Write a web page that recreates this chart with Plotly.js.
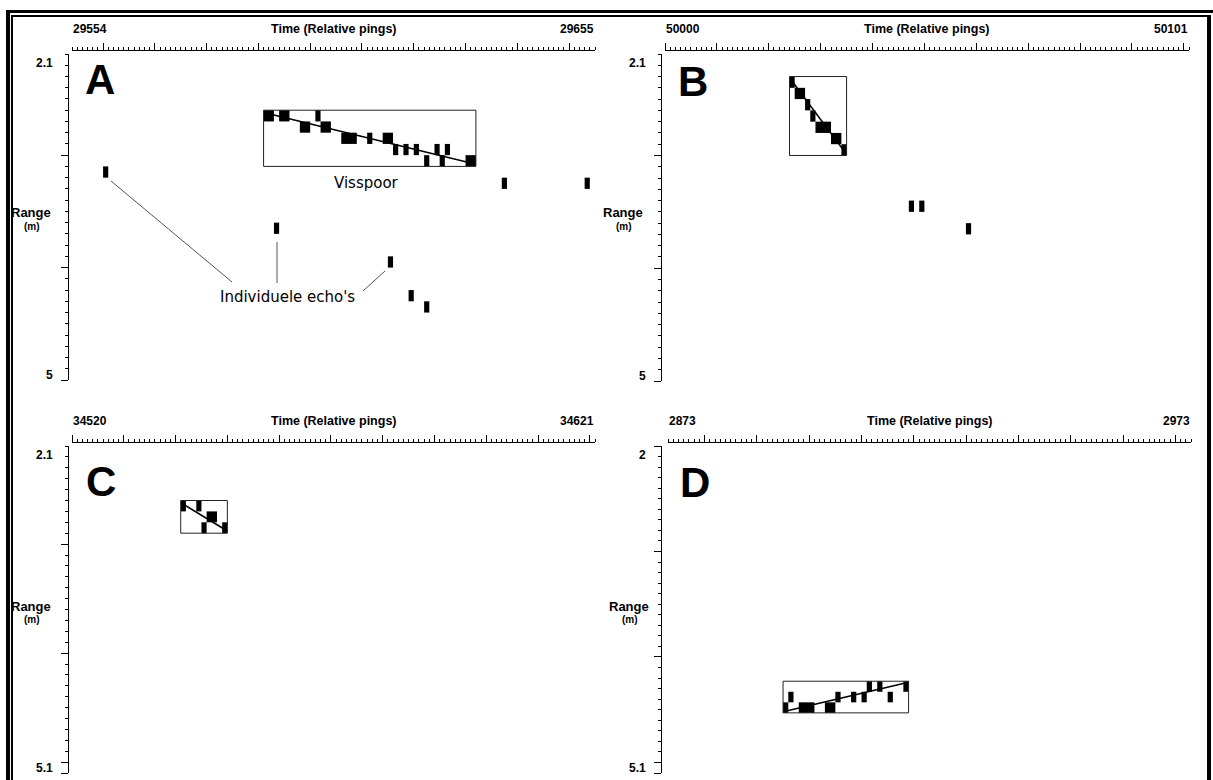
<!DOCTYPE html>
<html><head><meta charset="utf-8">
<script src="https://cdn.plot.ly/plotly-3.0.1.min.js"></script>
<style>html,body{margin:0;padding:0;background:#fff;}#chart{width:1213px;height:780px;}</style>
</head><body><div id="chart"></div>
<script>
// ---------------- DATA ----------------
// Panel A
const rangeA = [29554, 29655];
const depthRangeA = [2.1, 5];
const trackPingsA = [29591, 29592, 29594, 29595, 29598, 29599, 29601, 29602, 29603, 29606, 29607, 29608, 29611, 29614, 29615, 29616, 29618, 29620, 29622, 29624, 29625, 29626, 29630, 29631];
const trackDepthA = [2.6, 2.6, 2.6, 2.6, 2.7, 2.7, 2.6, 2.7, 2.7, 2.8, 2.8, 2.8, 2.8, 2.8, 2.8, 2.9, 2.9, 2.9, 3.0, 2.9, 3.0, 2.9, 3.0, 3.0];
const echoPingsA = [29560, 29593, 29615, 29619, 29622, 29637, 29653];
const echoDepthA = [3.1, 3.6, 3.9, 4.2, 4.3, 3.2, 3.2];
const fitPingsA = [29591, 29632];
const fitDepthA = [2.62, 3.08];
// Panel B
const rangeB = [50000, 50101];
const depthRangeB = [2.1, 5];
const trackPingsB = [50024, 50025, 50026, 50027, 50028, 50029, 50030, 50031, 50032, 50033, 50034];
const trackDepthB = [2.3, 2.4, 2.4, 2.5, 2.6, 2.7, 2.7, 2.7, 2.8, 2.8, 2.9];
const echoPingsB = [50047, 50049, 50058];
const echoDepthB = [3.4, 3.4, 3.6];
const fitPingsB = [50024, 50035];
const fitDepthB = [2.31, 2.99];
// Panel C
const rangeC = [34520, 34621];
const depthRangeC = [2.1, 5.1];
const trackPingsC = [34541, 34544, 34545, 34546, 34547, 34549];
const trackDepthC = [2.6, 2.6, 2.8, 2.7, 2.7, 2.8];
const echoPingsC = [];
const echoDepthC = [];
const fitPingsC = [34541, 34550];
const fitDepthC = [2.62, 2.88];
// Panel D
const rangeD = [2873, 2973];
const depthRangeD = [2, 5.1];
const trackPingsD = [2895, 2896, 2898, 2899, 2900, 2903, 2904, 2905, 2908, 2910, 2911, 2913, 2915, 2918];
const trackDepthD = [4.43, 4.33, 4.43, 4.43, 4.43, 4.43, 4.43, 4.33, 4.33, 4.33, 4.23, 4.23, 4.33, 4.23];
const echoPingsD = [];
const echoDepthD = [];
const fitPingsD = [2895, 2919];
const fitDepthD = [4.52, 4.24];

const panelLetters = ['A', 'B', 'C', 'D'];
const xTitle = 'Time (Relative pings)';
const yTitle = 'Range';
const yUnit = '(m)';
const trackLabel = 'Visspoor';
const echoLabel = "Individuele echo's";

// ---------------- LAYOUT ----------------
const W = 1213, H = 780;
const PX = p => p / W, PY = p => 1 - p / H;
const BIN = 0.1;
const FONT = 'Liberation Sans, Arial, sans-serif';
const TXT = 'DejaVu Sans, Verdana, sans-serif';

const panels = [
  {s: '', xr: rangeA, yr: depthRangeA, tp: trackPingsA, td: trackDepthA, ep: echoPingsA, ed: echoDepthA, fp: fitPingsA, fd: fitDepthA,
   g: {xL: 72, xR: 595, axY: 50, yAx: 68, yT: 54, yB: 380, lbY: 29, letX: 100, letY: 80, rgX: 31, rgY: 213}},
  {s: '2', xr: rangeB, yr: depthRangeB, tp: trackPingsB, td: trackDepthB, ep: echoPingsB, ed: echoDepthB, fp: fitPingsB, fd: fitDepthB,
   g: {xL: 665, xR: 1189, axY: 50, yAx: 661, yT: 54, yB: 381, lbY: 29, letX: 693, letY: 82, rgX: 623, rgY: 213}},
  {s: '3', xr: rangeC, yr: depthRangeC, tp: trackPingsC, td: trackDepthC, ep: echoPingsC, ed: echoDepthC, fp: fitPingsC, fd: fitDepthC,
   g: {xL: 72, xR: 595, axY: 442, yAx: 68, yT: 446, yB: 773, lbY: 421, letX: 101, letY: 481, rgX: 31, rgY: 606}},
  {s: '4', xr: rangeD, yr: depthRangeD, tp: trackPingsD, td: trackDepthD, ep: echoPingsD, ed: echoDepthD, fp: fitPingsD, fd: fitDepthD,
   g: {xL: 668, xR: 1191, axY: 442, yAx: 661, yT: 446, yB: 773, lbY: 421, letX: 695, letY: 482, rgX: 629, rgY: 606}}
];

// merge consecutive pings at the same depth into one wider cell
function cellRuns(pings, depths) {
  const cells = pings.map((p, i) => ({p: p, d: depths[i]})).sort((a, b) => (a.d - b.d) || (a.p - b.p));
  const out = [];
  cells.forEach(c => {
    const last = out[out.length - 1];
    if (last && last.d === c.d && last.p + last.w === c.p) last.w += 1;
    else out.push({p: c.p, d: c.d, w: 1});
  });
  return out;
}

const data = [];
const shapes = [];
const annotations = [];
const layout = {
  width: W, height: H, margin: {l: 0, r: 0, t: 0, b: 0},
  paper_bgcolor: '#fff', plot_bgcolor: 'rgba(0,0,0,0)',
  showlegend: false, barmode: 'overlay', hovermode: false,
  shapes: shapes, annotations: annotations
};

function ann(text, x, y, xanchor, size, bold, family) {
  annotations.push({text: bold ? '<b>' + text + '</b>' : text, xref: 'paper', yref: 'paper',
    x: PX(x), y: PY(y), xanchor: xanchor, yanchor: 'middle', showarrow: false,
    font: {family: family || FONT, size: size, color: '#000'}, borderpad: 0});
}

function cellTrace(pings, depths, xa, ya) {
  const r = cellRuns(pings, depths);
  return {type: 'bar', x: r.map(c => c.p), base: r.map(c => c.d), y: r.map(() => BIN),
    width: r.map(c => c.w), offset: 0,
    marker: {color: '#000', line: {width: 0}}, xaxis: xa, yaxis: ya};
}

panels.forEach((p, i) => {
  const g = p.g;
  const xa = 'x' + p.s, ya = 'y' + p.s;
  const xMaj = [];
  for (let v = Math.ceil(p.xr[0] / 10) * 10; v <= p.xr[1]; v += 10) xMaj.push(v);
  const yMaj = [];
  for (let v = Math.ceil(p.yr[0]); v <= p.yr[1]; v += 1) yMaj.push(v);
  if (yMaj[yMaj.length - 1] !== p.yr[1]) yMaj.push(p.yr[1]);
  layout['xaxis' + p.s] = {
    domain: [PX(g.xL), PX(g.xR)], range: p.xr, side: 'top', anchor: 'free', position: PY(g.axY),
    showline: true, linecolor: '#000', linewidth: 1,
    ticks: 'outside', ticklen: 7, tickwidth: 1, tickcolor: '#000', tickmode: 'array', tickvals: xMaj,
    minor: {tickmode: 'linear', tick0: 0, dtick: 1, ticks: 'outside', ticklen: 3, tickwidth: 1, tickcolor: '#000', showgrid: false},
    showticklabels: false, showgrid: false, zeroline: false, fixedrange: true
  };
  layout['yaxis' + p.s] = {
    domain: [PY(g.yB), PY(g.yT)], range: [p.yr[1], p.yr[0]], anchor: 'free', position: PX(g.yAx), side: 'left',
    showline: true, linecolor: '#000', linewidth: 1,
    ticks: 'outside', ticklen: 7, tickwidth: 1, tickcolor: '#000', tickmode: 'array', tickvals: yMaj,
    minor: {tickmode: 'linear', tick0: 0, dtick: 0.1, ticks: 'outside', ticklen: 3, tickwidth: 1, tickcolor: '#000', showgrid: false},
    showticklabels: false, showgrid: false, zeroline: false, fixedrange: true
  };
  data.push(cellTrace(p.tp, p.td, xa, ya));
  if (p.ep.length) data.push(cellTrace(p.ep, p.ed, xa, ya));
  // fitted track line
  data.push({type: 'scatter', mode: 'lines', x: p.fp, y: p.fd, line: {color: '#000', width: 1.6},
    xaxis: xa, yaxis: ya, cliponaxis: false});
  // bounding box of the track
  shapes.push({type: 'rect', xref: xa, yref: ya,
    x0: Math.min(...p.tp), x1: Math.max(...p.tp) + 1,
    y0: Math.min(...p.td), y1: Math.max(...p.td) + BIN,
    line: {color: '#222', width: 1}, fillcolor: 'rgba(0,0,0,0)'});
  // axis labels
  ann(String(p.xr[0]), g.xL, g.lbY, 'left', 12, true);
  ann(String(p.xr[1]), g.xR, g.lbY, 'right', 12, true);
  ann(xTitle, (g.xL + g.xR) / 2, g.lbY, 'center', 12.5, true);
  ann(String(p.yr[0]), g.yAx - 14, g.yT + 9, 'right', 12, true);
  ann(String(p.yr[1]), g.yAx - 14, g.yB - 5, 'right', 12, true);
  ann(yTitle, g.rgX, g.rgY, 'center', 13, true);
  ann(yUnit, g.rgX + 1, g.rgY + 13, 'center', 10, true);
  ann(panelLetters[i], g.letX, g.letY, 'center', 42, true);
});

// labels on panel A
ann(trackLabel, 366, 183, 'center', 15, false, TXT);
ann(echoLabel, 287, 297, 'center', 15, false, TXT);
[[111, 181, 232, 282], [277, 242, 277, 283], [385, 271, 363, 291]].forEach(l => {
  shapes.push({type: 'line', xref: 'paper', yref: 'paper', x0: PX(l[0]), y0: PY(l[1]), x1: PX(l[2]), y1: PY(l[3]),
    line: {color: '#555', width: 1}});
});

// double frame
function pl(x0, y0, x1, y1, w) {
  shapes.push({type: 'line', xref: 'paper', yref: 'paper', x0: PX(x0), y0: PY(y0), x1: PX(x1), y1: PY(y1),
    line: {color: '#000', width: w}});
}
pl(8, 10, 8, 800, 4);
pl(6, 11.5, 1213, 11.5, 3);
pl(1209, 15, 1209, 800, 4);
pl(12, 15, 12, 800, 2);
pl(11, 16, 1207, 16, 2);

Plotly.newPlot('chart', data, layout, {staticPlot: true, displayModeBar: false});
</script></body></html>
